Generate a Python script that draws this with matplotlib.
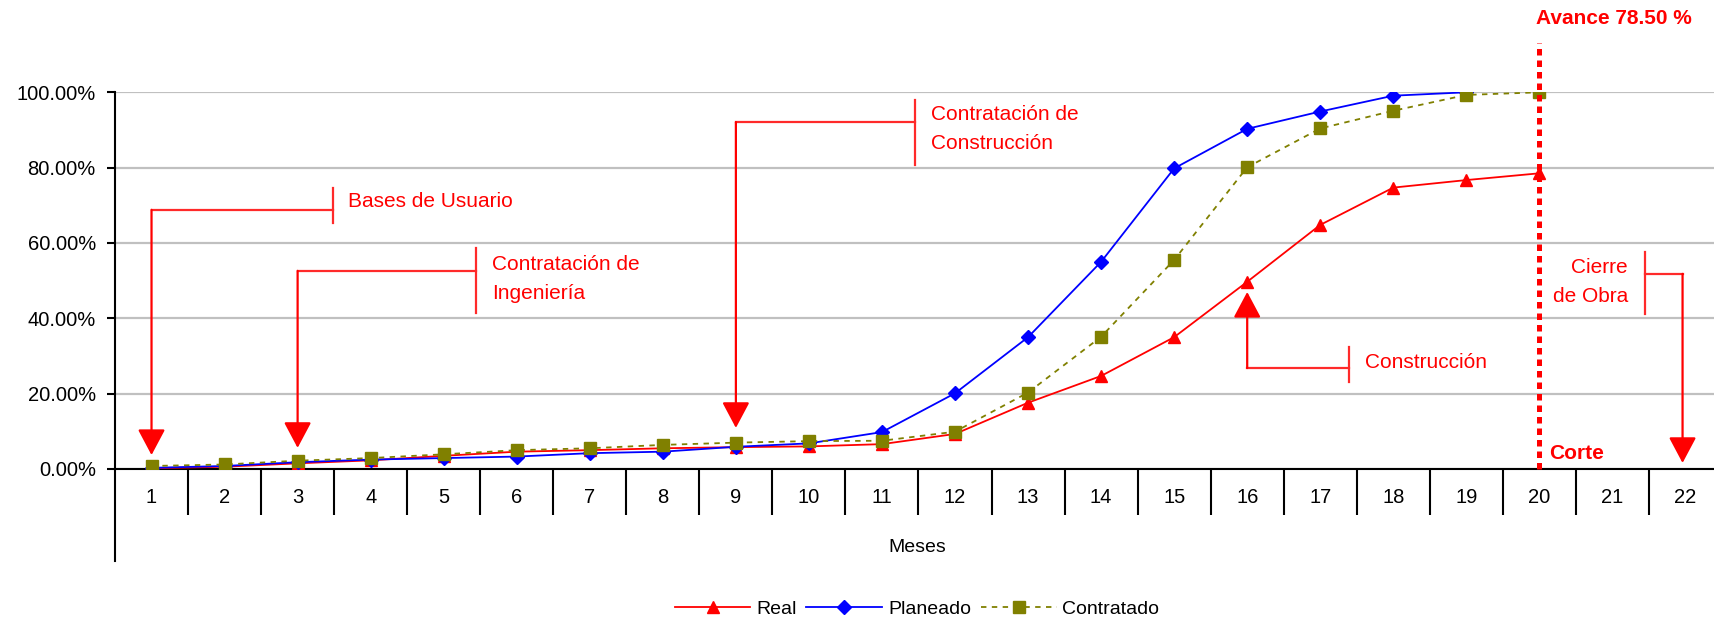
import numpy as np
import matplotlib
matplotlib.use("Agg")
import matplotlib.pyplot as plt
from matplotlib.ticker import FuncFormatter

plt.rcParams['font.family'] = ['Liberation Sans', 'DejaVu Sans']

# ==========================
# Datos
# ==========================
meses = list(range(1, 23))
real = [0.2, 0.6, 1.5, 2.3, 3.5, 4.6, 5.0, 5.5, 5.8, 6.0, 6.6, 9.3,
        17.6, 24.7, 35.0, 49.7, 64.8, 74.7, 76.7, 78.5]
planeado = [0.3, 0.8, 1.8, 2.5, 2.9, 3.3, 4.2, 4.6, 5.9, 6.8, 9.8, 20.1,
            35.0, 55.0, 79.8, 90.3, 94.9, 99.1, 100.0]
contratado = [0.8, 1.2, 2.2, 2.9, 3.9, 5.0, 5.5, 6.4, 7.0, 7.4, 7.5, 9.9,
              20.3, 35.1, 55.5, 80.1, 90.4, 95.1, 99.3, 100.0]
corte = 20
avance = 78.50

ROJO = '#ff0000'
ROJO_LINEA = '#ff2a2a'

fig = plt.figure(figsize=(17.15, 6.2), dpi=100)
ax = fig.add_axes([115 / 1715, 151 / 620, 1607 / 1715, 376.7 / 620])

ax.plot(meses[:len(real)], real, color=ROJO, lw=1.3, marker='^', ms=9,
        label='Real', zorder=3)
ax.plot(meses[:len(planeado)], planeado, color='#0000ff', lw=1.3, marker='D',
        ms=7, label='Planeado', zorder=4)
ax.plot(meses[:len(contratado)], contratado, color='#808000', lw=1.3,
        ls='--', dashes=(3, 3), marker='s', ms=8, label='Contratado', zorder=5)

# ejes
ax.set_xlim(0.5, 22.5)
ax.set_ylim(0, 100)
ax.set_yticks(np.arange(0, 101, 20))
ax.yaxis.set_major_formatter(FuncFormatter(lambda v, p: f'{v:.2f}%'))
ax.set_xticks(meses)
ax.set_xticklabels([str(m) for m in meses])
ax.set_xticks(np.arange(1.5, 22, 1), minor=True)
ax.tick_params(axis='x', which='major', length=0, pad=14, labelsize=14.5)
ax.tick_params(axis='x', which='minor', length=33, width=1.5, direction='out')
ax.tick_params(axis='y', length=5.8, width=1.5, pad=8, labelsize=14.5)
ax.yaxis.grid(True, color='#c0c0c0', lw=1.6)
ax.set_axisbelow(True)
for s in ['top', 'right']:
    ax.spines[s].set_visible(False)
for s in ['left', 'bottom']:
    ax.spines[s].set_linewidth(1.5)
# eje vertical se prolonga bajo las etiquetas
ax.plot([0.5, 0.5], [0, -24.4], color='black', lw=1.5, clip_on=False)


# ==========================
# Llamadas (flechas)
# ==========================
def llamada(tick_x, tick_y, corner, tip):
    ax.plot([tick_x, tick_x], tick_y, color=ROJO_LINEA, lw=1.6, clip_on=False)
    ax.plot([tick_x, corner[0]], [corner[1], corner[1]], color=ROJO_LINEA,
            lw=1.6, clip_on=False)
    ax.annotate('', xy=tip, xytext=corner, annotation_clip=False,
                arrowprops=dict(arrowstyle='-|>,head_length=1.6,head_width=0.85',
                                color=ROJO, lw=1.6, shrinkA=0, shrinkB=0,
                                mutation_scale=10))


llamada(3.48, [65.3, 74.6], (1, 68.8), (1, 3.7))
ax.text(3.69, 70.9, 'Bases de Usuario', color=ROJO, fontsize=15, va='center')

llamada(5.44, [41.4, 58.7], (3, 52.6), (3, 5.6))
ax.text(5.66, 54.4, 'Contratación de', color=ROJO, fontsize=15, va='center')
ax.text(5.66, 46.7, 'Ingeniería', color=ROJO, fontsize=15, va='center')

llamada(11.45, [80.7, 98.0], (9, 92.1), (9, 10.9))
ax.text(11.67, 94.0, 'Contratación de', color=ROJO, fontsize=15, va='center')
ax.text(11.67, 86.5, 'Construcción', color=ROJO, fontsize=15, va='center')

llamada(17.39, [23.1, 32.4], (16, 26.8), (16, 47.0))
ax.text(17.61, 28.4, 'Construcción', color=ROJO, fontsize=15, va='center')

llamada(21.44, [41.1, 57.6], (21.96, 51.8), (21.96, 1.6))
ax.text(21.21, 53.6, 'Cierre', color=ROJO, fontsize=15, va='center', ha='right')
ax.text(21.21, 45.9, 'de Obra', color=ROJO, fontsize=15, va='center', ha='right')

# linea de corte
ax.plot([corte, corte], [0, 113.1], color=ROJO, lw=3.6, ls=(0, (1.3, 1.0)),
        dash_capstyle='butt', clip_on=False, zorder=6)
ax.text(19.96, 119.7, f'Avance {avance:.2f} %', color=ROJO, fontsize=15,
        fontweight='bold', va='center')
ax.text(20.14, 4.2, 'Corte', color=ROJO, fontsize=15, fontweight='bold',
        va='center')

fig.text(917 / 1715, 1 - 547 / 620, 'Meses', ha='center', va='center',
         fontsize=14)
fig.legend(loc='center', bbox_to_anchor=(917 / 1715, 1 - 609 / 620), ncol=3,
           frameon=False, fontsize=14, handlelength=3.9, handletextpad=0.3,
           columnspacing=0.5)

fig.savefig('out.png', dpi=100)
